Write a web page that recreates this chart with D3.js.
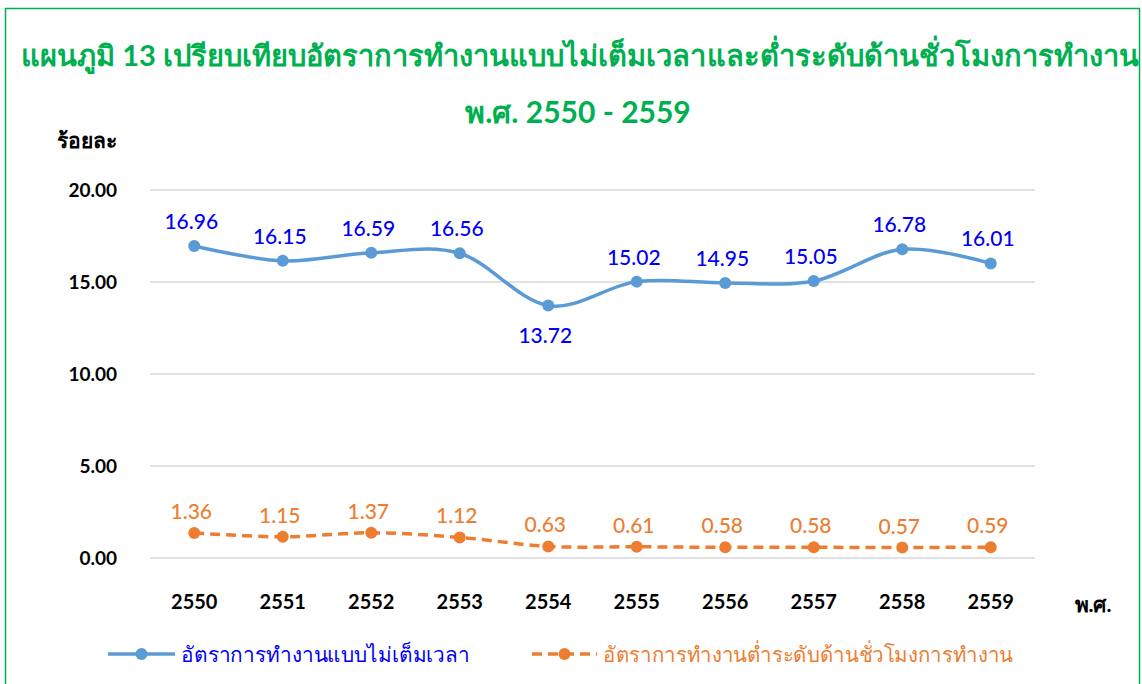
<!DOCTYPE html>
<html>
<head>
<meta charset="utf-8">
<script src="https://cdn.jsdelivr.net/npm/d3@7"></script>
<style>
  body { margin: 0; background: #fff; }
  svg { font-family: Lato, "Noto Sans", sans-serif; }
</style>
</head>
<body>
<div id="chart"></div>
<script>
const ancho = 1142;
const alto = 684;

const anios = ["2550", "2551", "2552", "2553", "2554", "2555", "2556", "2557", "2558", "2559"];
const tiempoParcial = [16.96, 16.15, 16.59, 16.56, 13.72, 15.02, 14.95, 15.05, 16.78, 16.01];
const subempleo = [1.36, 1.15, 1.37, 1.12, 0.63, 0.61, 0.58, 0.58, 0.57, 0.59];
const ticksY = [0, 5, 10, 15, 20];
const nombres = ["อัตราการทำงานแบบไม่เต็มเวลา", "อัตราการทำงานต่ำระดับด้านชั่วโมงการทำงาน"];

const azul = "#5B9BD5", azulTexto = "#0000F5", naranja = "#ED7D31", verde = "#00B050";

const svg = d3.select("#chart").append("svg")
  .attr("width", ancho)
  .attr("height", alto);

// marco verde
svg.append("rect")
  .attr("x", 5.5).attr("y", 8.5)
  .attr("width", ancho - 8).attr("height", alto)
  .attr("fill", "none").attr("stroke", verde).attr("stroke-width", 1.5);

svg.append("text")
  .attr("x", 580).attr("y", 66)
  .attr("text-anchor", "middle")
  .attr("fill", verde).attr("font-size", 29).attr("font-weight", "bold")
  .attr("textLength", 1118).attr("lengthAdjust", "spacingAndGlyphs")
  .text("แผนภูมิ 13  เปรียบเทียบอัตราการทำงานแบบไม่เต็มเวลาและต่ำระดับด้านชั่วโมงการทำงาน");

svg.append("text")
  .attr("x", 578).attr("y", 123)
  .attr("text-anchor", "middle")
  .attr("fill", verde).attr("font-size", 30).attr("font-weight", "bold")
  .text("พ.ศ. 2550 - 2559");

const x = d3.scaleBand().domain(anios).range([150, 1035]);
const y = d3.scaleLinear().domain([0, 20]).range([558, 190]);
const cx = d => x(d) + x.bandwidth() / 2;

// grid
svg.append("g").selectAll("line")
  .data(ticksY)
  .enter().append("line")
  .attr("x1", 150).attr("x2", 1035)
  .attr("y1", d => y(d)).attr("y2", d => y(d))
  .attr("stroke", "#d9d9d9").attr("stroke-width", 1.5);

const ejeY = svg.append("g")
  .attr("transform", "translate(117,0)")
  .call(d3.axisLeft(y).tickValues(ticksY).tickFormat(d3.format(".2f")).tickSize(0).tickPadding(0));
ejeY.select(".domain").remove();
ejeY.selectAll("text").attr("font-size", 19).attr("font-weight", "bold").attr("fill", "#000")
  .attr("font-family", "Lato, sans-serif");

const ejeX = svg.append("g")
  .attr("transform", "translate(0,595)")
  .call(d3.axisBottom(x).tickSize(0).tickPadding(0));
ejeX.select(".domain").remove();
ejeX.selectAll("text").attr("font-size", 20).attr("font-weight", "bold").attr("fill", "#000")
  .attr("font-family", "Lato, sans-serif");

svg.append("text")
  .attr("x", 57).attr("y", 148)
  .attr("font-size", 21).attr("font-weight", "bold")
  .text("ร้อยละ");

svg.append("text")
  .attr("x", 1093).attr("y", 612)
  .attr("text-anchor", "middle")
  .attr("font-size", 21).attr("font-weight", "bold")
  .text("พ.ศ.");

const linea = d3.line()
  .x((d, i) => cx(anios[i]))
  .y(d => y(d))
  .curve(d3.curveCatmullRom.alpha(0));

function serie(valores, color, dash, colorTexto, arriba, abajo) {
  svg.append("path")
    .attr("d", linea(valores))
    .attr("fill", "none")
    .attr("stroke", color)
    .attr("stroke-width", 3.5)
    .attr("stroke-dasharray", dash);
  svg.append("g").selectAll("circle")
    .data(valores)
    .enter().append("circle")
    .attr("cx", (d, i) => cx(anios[i]))
    .attr("cy", d => y(d))
    .attr("r", 6)
    .attr("fill", color);
  svg.append("g").selectAll("text")
    .data(valores)
    .enter().append("text")
    .attr("x", (d, i) => cx(anios[i]) - 3)
    .attr("y", (d, i) => abajo(i) ? y(d) + 37 : y(d) - arriba)
    .attr("text-anchor", "middle")
    .attr("font-size", 21).attr("font-weight", 500)
    .attr("fill", colorTexto)
    .text(d => d.toFixed(2));
}

serie(tiempoParcial, azul, null, azulTexto, 17, i => i === 4);
serie(subempleo, naranja, "10,6", naranja, 14, () => false);

// leyenda
const leyenda = [
  { x0: 108, x1: 175, color: azul, dash: null, texto: azulTexto, nombre: nombres[0], largo: 289 },
  { x0: 532, x1: 597, color: naranja, dash: "10,6", texto: naranja, nombre: nombres[1], largo: 410 }
];
const items = svg.append("g").selectAll("g").data(leyenda).enter().append("g");
items.append("line")
  .attr("x1", d => d.x0).attr("x2", d => d.x1)
  .attr("y1", 654).attr("y2", 654)
  .attr("stroke", d => d.color).attr("stroke-width", 3.5)
  .attr("stroke-dasharray", d => d.dash);
items.append("circle")
  .attr("cx", d => (d.x0 + d.x1) / 2).attr("cy", 654).attr("r", 6)
  .attr("fill", d => d.color);
items.append("text")
  .attr("x", d => d.x1 + 6).attr("y", 662)
  .attr("font-size", 21).attr("font-weight", 500)
  .attr("fill", d => d.texto)
  .attr("textLength", d => d.largo).attr("lengthAdjust", "spacingAndGlyphs")
  .text(d => d.nombre);
</script>
</body>
</html>
